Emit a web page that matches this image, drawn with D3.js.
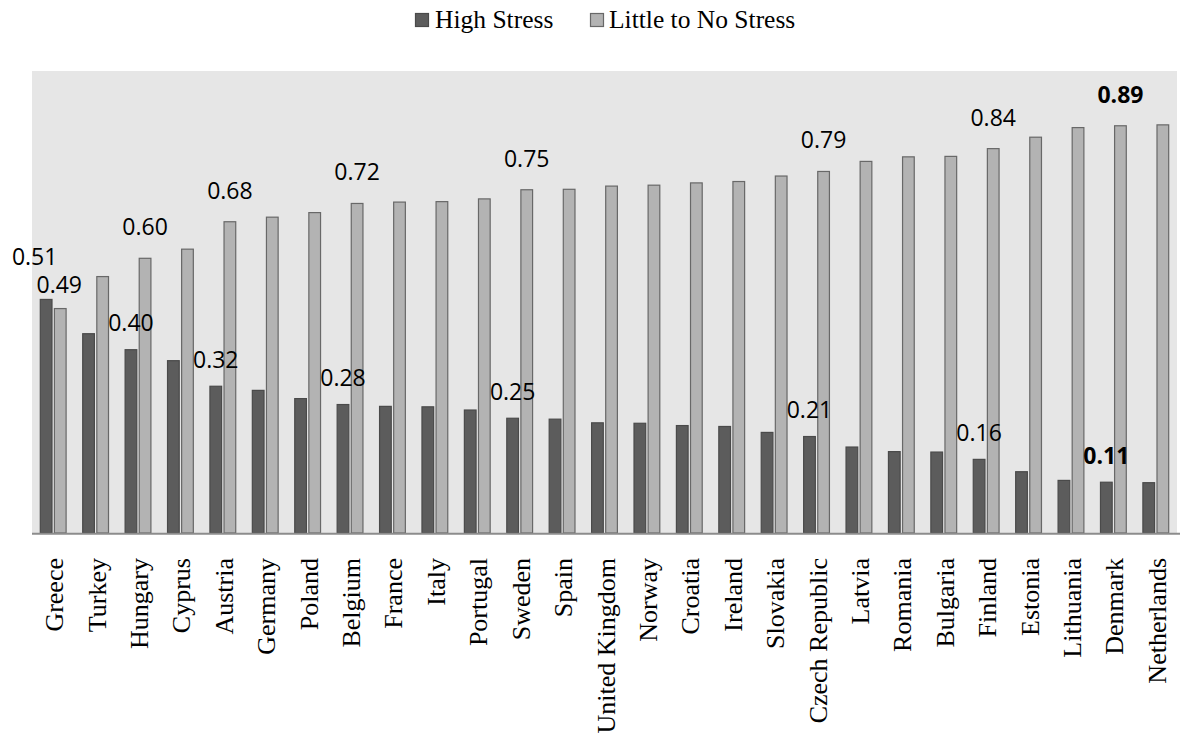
<!DOCTYPE html>
<html>
<head>
<meta charset="utf-8">
<script src="https://cdn.jsdelivr.net/npm/d3@7"></script>
<style>
  html, body { margin: 0; padding: 0; background: #ffffff; }
  svg { display: block; }
</style>
</head>
<body>
<svg id="chart" width="1184" height="738"></svg>
<script>
// Countries, ordered by share of people reporting high stress
const countries = ["Greece", "Turkey", "Hungary", "Cyprus", "Austria", "Germany", "Poland",
  "Belgium", "France", "Italy", "Portugal", "Sweden", "Spain", "United Kingdom", "Norway",
  "Croatia", "Ireland", "Slovakia", "Czech Republic", "Latvia", "Romania", "Bulgaria",
  "Finland", "Estonia", "Lithuania", "Denmark", "Netherlands"];

const highStress = [0.51, 0.435, 0.40, 0.376, 0.32, 0.311, 0.293, 0.28, 0.276, 0.275, 0.268,
  0.25, 0.248, 0.240, 0.239, 0.234, 0.232, 0.219, 0.21, 0.187, 0.177, 0.176, 0.16, 0.133,
  0.114, 0.11, 0.109];

const littleStress = [0.49, 0.56, 0.60, 0.62, 0.68, 0.69, 0.70, 0.72, 0.723, 0.724, 0.73,
  0.75, 0.751, 0.758, 0.76, 0.765, 0.768, 0.78, 0.79, 0.812, 0.822, 0.823, 0.84, 0.865,
  0.886, 0.89, 0.892];

const seriesNames = ["High Stress", "Little to No Stress"];
const seriesValues = [highStress, littleStress];

// Countries whose values are printed above the bars
const labeledCountries = ["Greece", "Hungary", "Austria", "Belgium", "Sweden",
  "Czech Republic", "Finland", "Denmark"];
const boldLabelCountries = ["Denmark"];

const fills = ["#5c5c5c", "#b3b3b3"];
const strokes = ["#4a4a4a", "#686868"];

const svg = d3.select("#chart");

const plot = { left: 32, right: 1177, top: 71, bottom: 533 };

const x = d3.scaleBand().domain(countries).range([plot.left, plot.right]).padding(0);
const xs = d3.scaleBand().domain(seriesNames).range([7.8, 34.6]).paddingInner(0.1);
const y = d3.scaleLinear().domain([0, 1]).range([532, 75]);

// plot background
svg.append("rect")
  .attr("x", plot.left).attr("y", plot.top)
  .attr("width", plot.right - plot.left).attr("height", plot.bottom - plot.top)
  .attr("fill", "#e6e6e6");

const rows = countries.map((c, i) => ({
  country: c,
  values: seriesNames.map((s, k) => ({ series: s, k, value: seriesValues[k][i], country: c }))
}));

const groups = svg.append("g").selectAll("g")
  .data(rows).join("g")
  .attr("transform", d => `translate(${x(d.country)},0)`);

groups.selectAll("rect")
  .data(d => d.values).join("rect")
  .attr("x", d => xs(d.series) + 0.5)
  .attr("y", d => y(d.value) + 0.5)
  .attr("width", xs.bandwidth() - 1)
  .attr("height", d => plot.bottom - y(d.value) - 0.5)
  .attr("fill", d => fills[d.k])
  .attr("stroke", d => strokes[d.k])
  .attr("stroke-width", 1.2);

// x axis line
svg.append("line")
  .attr("x1", plot.left).attr("x2", 1180)
  .attr("y1", 533.8).attr("y2", 533.8)
  .attr("stroke", "#8c8c8c").attr("stroke-width", 2);

// value labels
const fmt = d3.format(".2f");
const labelOffsets = {
  "Greece|0": { dx: -11.5, dy: -33.5 },
  "Greece|1": { dx: -1, dy: -15.5 }
};
const labelData = [];
rows.forEach(r => {
  if (!labeledCountries.includes(r.country)) return;
  r.values.forEach(v => labelData.push(v));
});

svg.append("g").selectAll("text")
  .data(labelData).join("text")
  .attr("x", d => {
    const o = labelOffsets[d.country + "|" + d.k];
    return x(d.country) + xs(d.series) + xs.bandwidth() / 2 + (o ? o.dx : 0);
  })
  .attr("y", d => {
    const o = labelOffsets[d.country + "|" + d.k];
    return y(d.value) + (o ? o.dy : (d.k === 0 ? -18 : -22.5));
  })
  .attr("text-anchor", "middle")
  .attr("font-family", "'Open Sans', sans-serif")
  .attr("font-size", 23)
  .attr("font-weight", d => boldLabelCountries.includes(d.country) ? "bold" : "normal")
  .attr("fill", "#000")
  .text(d => fmt(d.value));

// category labels, rotated
svg.append("g").selectAll("text")
  .data(countries).join("text")
  .attr("transform", c => `translate(${x(c) + x.bandwidth() / 2 + 10},558) rotate(-90)`)
  .attr("text-anchor", "end")
  .attr("font-family", "'Liberation Serif', 'Times New Roman', serif")
  .attr("font-size", 26)
  .attr("fill", "#000")
  .text(c => c);

// legend
const legendItems = [
  { name: seriesNames[0], k: 0, sx: 415, tx: 435 },
  { name: seriesNames[1], k: 1, sx: 590, tx: 609 }
];
const legend = svg.append("g");
legend.selectAll("rect")
  .data(legendItems).join("rect")
  .attr("x", d => d.sx + 0.5).attr("y", 13.5)
  .attr("width", 13).attr("height", 13)
  .attr("fill", d => fills[d.k])
  .attr("stroke", d => strokes[d.k])
  .attr("stroke-width", 1.2);
legend.selectAll("text")
  .data(legendItems).join("text")
  .attr("x", d => d.tx).attr("y", 27.5)
  .attr("font-family", "'Liberation Serif', 'Times New Roman', serif")
  .attr("font-size", 25.5)
  .attr("fill", "#000")
  .text(d => d.name);
</script>
</body>
</html>
